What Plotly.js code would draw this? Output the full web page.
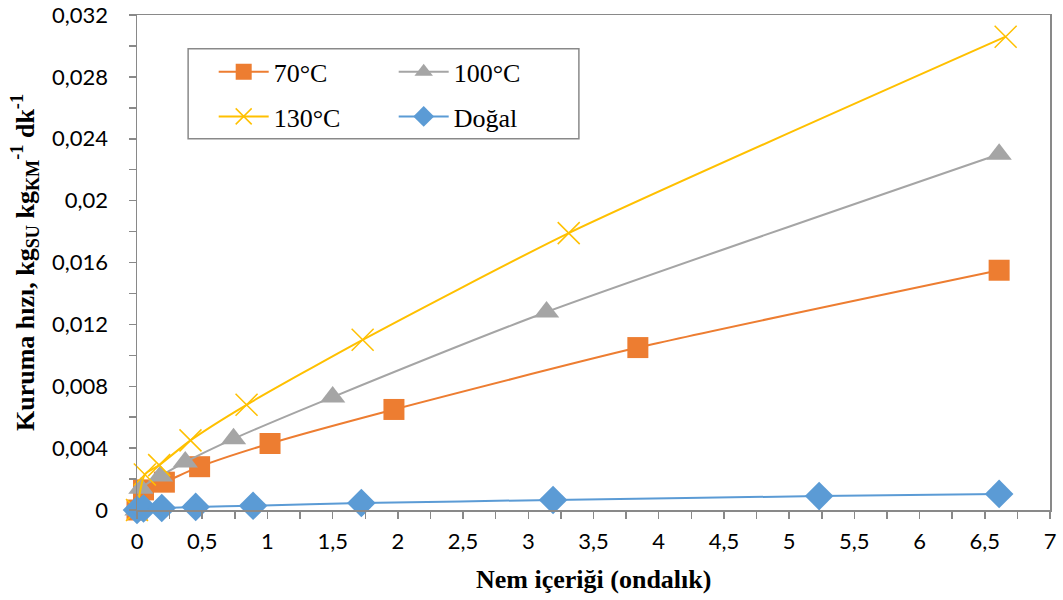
<!DOCTYPE html>
<html>
<head>
<meta charset="utf-8">
<script src="https://cdn.plot.ly/plotly-3.0.1.min.js"></script>
<style>
  html, body { margin: 0; padding: 0; background: #ffffff; overflow: hidden; }
  #chart { width: 1063px; height: 600px; }
</style>
</head>
<body>
<div id="chart"></div>
<script>
// Moisture content (decimal, dry basis) and drying rate for each condition
const x70 = [0, 0.05, 0.21, 0.48, 1.02, 1.97, 3.84, 6.61];
const y70 = [0, 0.0013, 0.0018, 0.0028, 0.0043, 0.0065, 0.0105, 0.0155];

const x100 = [0, 0.03, 0.18, 0.37, 0.74, 1.50, 3.14, 6.61];
const y100 = [0, 0.0014, 0.0022, 0.0031, 0.0046, 0.0073, 0.0128, 0.0230];

const x130 = [0, 0.06, 0.17, 0.41, 0.84, 1.73, 3.31, 6.66];
const y130 = [0, 0.0023, 0.0029, 0.0045, 0.0068, 0.0110, 0.0179, 0.0306];

const xDogal = [0, 0.05, 0.19, 0.45, 0.89, 1.72, 3.19, 5.23, 6.61];
const yDogal = [0, 0.0001, 0.00013, 0.0002, 0.00027, 0.00045, 0.00065, 0.0009, 0.00104];

const seriesNames = ['70°C', '100°C', '130°C', 'Doğal'];
const xTitle = 'Nem içeriği (ondalık)';
const yTitle = 'Kuruma hızı, kg<sub>SU</sub> kg<sub>KM</sub><sup>-1</sup> dk<sup>-1</sup>';

const serif = 'Liberation Serif, Times New Roman, serif';
const sans = 'Lato, Open Sans, sans-serif';

function series(x, y, name, color, marker, legendId) {
  return {
    type: 'scatter', mode: 'lines+markers', x: x, y: y, name: name,
    line: { color: color, width: 2, shape: 'spline', smoothing: 0.6 },
    marker: marker, legend: legendId, cliponaxis: false
  };
}

const traces = [
  series(x70, y70, seriesNames[0], '#ED7D31',
    { symbol: 'square', size: 21, color: '#ED7D31' }, 'legend'),
  series(x100, y100, seriesNames[1], '#A5A5A5',
    { symbol: 'triangle-up', size: 22, color: '#A5A5A5' }, 'legend'),
  series(x130, y130, seriesNames[2], '#FFC000',
    { symbol: 'x-thin-open', size: 22, color: '#FFC000', line: { color: '#FFC000', width: 1.5 } }, 'legend2'),
  series(xDogal, yDogal, seriesNames[3], '#5B9BD5',
    { symbol: 'diamond', size: 22, color: '#5B9BD5' }, 'legend2')
];

// Two horizontal legends stacked inside one framed box give a 2 x 2 key
const legendCommon = {
  orientation: 'h', xref: 'paper', yref: 'paper', xanchor: 'left', yanchor: 'middle',
  bgcolor: 'rgba(0,0,0,0)', borderwidth: 0,
  entrywidth: 115, entrywidthmode: 'pixels', itemwidth: 50,
  font: { family: serif, size: 26, color: '#000000' }
};

const layout = {
  width: 1063, height: 600,
  margin: { l: 137, r: 13, t: 15, b: 90 },
  paper_bgcolor: '#ffffff', plot_bgcolor: '#ffffff',
  separators: ', ',
  showlegend: true,
  legend: Object.assign({}, legendCommon, { x: 0.084, y: 0.885 }),
  legend2: Object.assign({}, legendCommon, { x: 0.084, y: 0.795 }),
  shapes: [{
    type: 'rect', xref: 'paper', yref: 'paper',
    x0: 0.056, x1: 0.484, y0: 0.75, y1: 0.932,
    line: { color: '#898989', width: 1.5 }, fillcolor: 'rgba(0,0,0,0)', layer: 'above'
  }],
  annotations: [{
    text: '<b>' + xTitle + '</b>', xref: 'paper', yref: 'paper',
    x: 0.5, y: -0.141, xanchor: 'center', yanchor: 'middle', showarrow: false,
    font: { family: serif, size: 26, color: '#000000' }
  }],
  xaxis: {
    range: [0, 7], dtick: 0.5, tick0: 0,
    showgrid: false, zeroline: false,
    showline: true, linecolor: '#898989', linewidth: 1.5, mirror: true,
    ticks: 'outside', ticklen: 7, tickcolor: '#898989', tickwidth: 1.5,
    minor: { dtick: 0.25, ticks: 'outside', ticklen: 7, tickcolor: '#898989', tickwidth: 1.5 },
    tickfont: { family: sans, size: 22, color: '#000000' },
    ticklabelstandoff: 4
  },
  yaxis: {
    range: [0, 0.032], dtick: 0.004, tick0: 0,
    showgrid: false, zeroline: false,
    showline: true, linecolor: '#898989', linewidth: 1.5, mirror: true,
    ticks: 'outside', ticklen: 7, tickcolor: '#898989', tickwidth: 1.5,
    minor: { dtick: 0.002, ticks: 'outside', ticklen: 7, tickcolor: '#898989', tickwidth: 1.5 },
    tickfont: { family: sans, size: 22, color: '#000000' },
    ticklabelstandoff: 16,
    title: {
      text: '<b>' + yTitle + '</b>',
      font: { family: serif, size: 26, color: '#000000' }, standoff: 10
    }
  }
};

Plotly.newPlot('chart', traces, layout, { displayModeBar: false, staticPlot: true });
</script>
</body>
</html>
